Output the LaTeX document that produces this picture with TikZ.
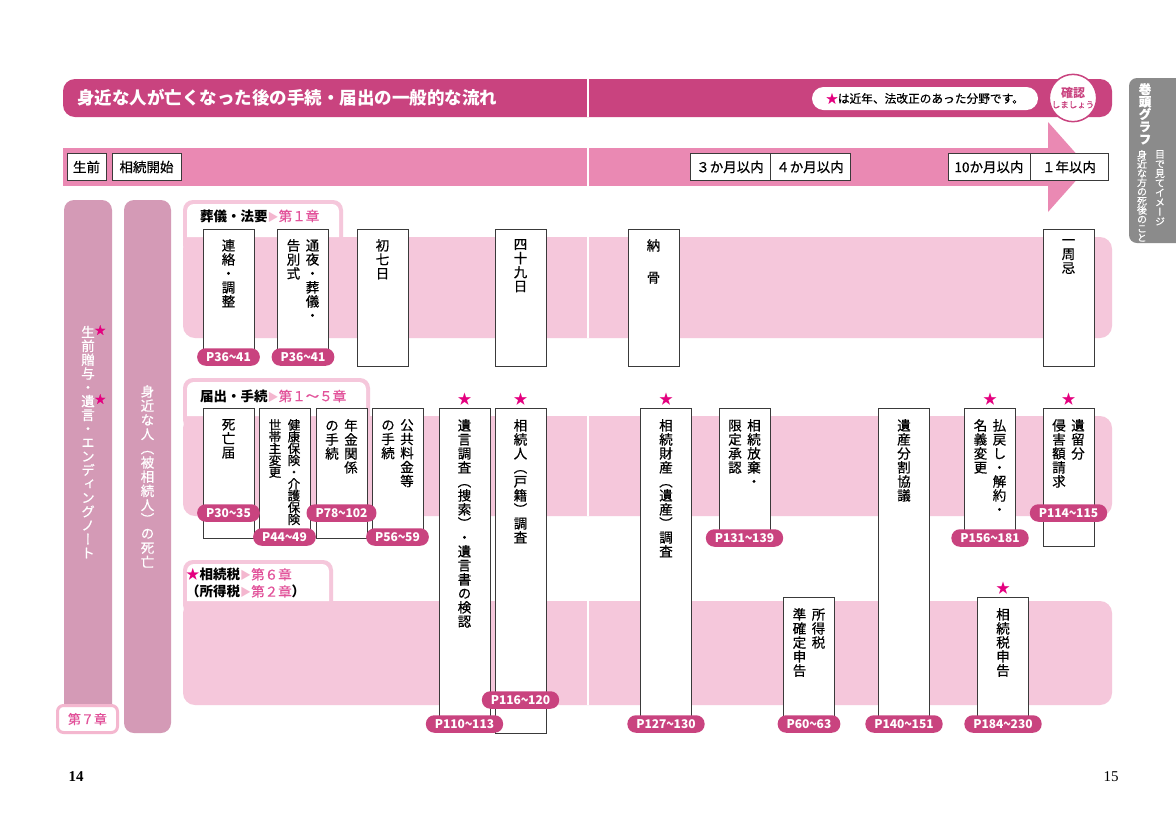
\documentclass[tikz,border=0pt]{standalone}
\usepackage{fontspec}
\setmainfont{Noto Sans CJK JP}
\newfontfamily\jpm[FakeBold=0.5]{Noto Sans CJK JP}
\newfontfamily\jpv[RawFeature=+vert, FakeBold=0.5]{Noto Sans CJK JP}
\newfontfamily\pagefont{Liberation Serif}

\definecolor{hdrpink}{HTML}{C9437F}
\definecolor{tlpink}{HTML}{EA89B3}
\definecolor{bandpink}{HTML}{F5C7DB}
\definecolor{colpink}{HTML}{D49AB6}
\definecolor{starpink}{HTML}{E4007F}
\definecolor{chappink}{HTML}{E2529A}
\definecolor{tripink}{HTML}{F4B7CF}
\definecolor{tabgray}{HTML}{8B8B8B}
\definecolor{boxline}{HTML}{3A3A3A}

% vertical text: one glyph per line
\newlength\vcw
\setlength\vcw{15pt}
\def\vstop{}
\def\vstopmark{\vstop}
\def\vcolaux#1{\def\vtmp{#1}\ifx\vtmp\vstopmark\else\hbox to\vcw{\hss#1\hss}\expandafter\vcolaux\fi}
\newcommand\vcol[2][14pt]{\vtop{\baselineskip=#1\lineskip=0pt\lineskiplimit=-100pt\jpv\vcolaux#2\vstop}}
\newcommand\vtwo[3][14pt]{\vcol[#1]{#3}\hskip4pt\vcol[#1]{#2}}
\newcommand\vstar{\rlap{\raisebox{3pt}{\textcolor{starpink}{\fontsize{11}{11}\selectfont★}}}}
\newcommand\tri{\textcolor{tripink}{\fontsize{11}{11}\selectfont▶}}
\newcommand\wave{\scalebox{0.6}[1]{〜}}

\tikzset{
  docbox/.style={draw=boxline, fill=white, line width=1pt, minimum width=51pt, anchor=north, inner sep=0pt},
  vtxt/.style={anchor=north, inner sep=0pt, font=\fontsize{13.5}{14}\selectfont},
  plabel/.style={fill=hdrpink, text=white, rounded corners=8.5pt, minimum height=17.5pt, inner xsep=9pt, inner ysep=0pt, font=\fontsize{12}{12}\selectfont\bfseries},
  newstar/.style={text=starpink, anchor=south, inner sep=0pt, font=\fontsize{14}{14}\selectfont},
  tlbox/.style={draw=boxline, fill=white, line width=0.9pt, minimum height=27pt, inner sep=0pt, font=\jpm\fontsize{13.5}{13.5}\selectfont},
  tabtitle/.style={anchor=west, inner sep=0pt, font=\fontsize{13.5}{17}\selectfont, align=left},
}

\begin{document}
\begin{tikzpicture}[x=1pt, y=-1pt]
  \fill[white] (0,0) rectangle (1176,831);
  \useasboundingbox (0,0) rectangle (1176,831);

  % Header bar
  \fill[hdrpink, rounded corners=12pt] (63,79) rectangle (1112,117);
  \draw[white, line width=1.5pt] (588,79) -- (588,117);
  \node[anchor=west, text=white, inner sep=0pt, font=\fontsize{17.5}{17.5}\selectfont\bfseries] (title) at (77,98) {身近な人が亡くなった後の手続・届出の一般的な流れ};
  \node[fill=white, rounded corners=11.5pt, minimum width=226pt, minimum height=23pt, inner sep=0pt, font=\jpm\fontsize{11.7}{11.7}\selectfont] (note) at (925,98.5) {\textcolor{starpink}{★}は近年、法改正のあった分野です。};
  \node[circle, draw=hdrpink, line width=1.5pt, fill=white, minimum size=44pt, inner sep=0pt, align=center, text=hdrpink] (kakunin) at (1073,98) {{\bfseries\fontsize{12}{12}\selectfont 確認}\\[-2pt]{\jpm\fontsize{8.5}{9}\selectfont しましょう}};

  % Side tab
  \fill[tabgray, rounded corners=8pt] (1129,78) rectangle (1195,243);
  \node[anchor=north, inner sep=0pt, text=white, font=\fontsize{12.5}{12.5}\selectfont\bfseries] (kanto) at (1145,83) {\vcol[12.5pt]{巻頭グラフ}};
  \node[anchor=north, inner sep=0pt, text=white, font=\fontsize{10}{10}\selectfont] (mide) at (1160,150) {\vcol[9.6pt]{目で見てイメージ}};
  \node[anchor=north, inner sep=0pt, text=white, font=\fontsize{10}{10}\selectfont] (shigo) at (1142,150) {\vcol[9.2pt]{身近な方の死後のこと}};

  % Time line arrow
  \fill[tlpink] (63,148) rectangle (1048,186);
  \fill[tlpink] (1048,122) -- (1088,167) -- (1048,212) -- cycle;
  \draw[white, line width=1.5pt] (588,148) -- (588,186);
  \node[tlbox, minimum width=39pt] (seizen) at (86.5,167) {生前};
  \node[tlbox, minimum width=69pt] (kaishi) at (146.5,167) {相続開始};
  \node[tlbox, minimum width=80pt] (san) at (730,167) {３か月以内};
  \node[tlbox, minimum width=80pt] (yon) at (810,167) {４か月以内};
  \node[tlbox, minimum width=82pt] (juu) at (989,167) {10か月以内};
  \node[tlbox, minimum width=78pt] (ichinen) at (1069,167) {１年以内};

  % Left columns
  \fill[colpink, rounded corners=10pt] (64,200) rectangle (112,733);
  \fill[colpink, rounded corners=10pt] (124,200) rectangle (171,733);
  \node[anchor=north, inner sep=0pt, text=white, font=\fontsize{13.5}{14}\selectfont] (seizen-t) at (88,325) {\vcol[13.8pt]{{生\vstar}前贈与・{遺\vstar}言・エンディングノート}};
  \node[anchor=north, inner sep=0pt, text=white, font=\fontsize{13.5}{14}\selectfont] (shibo-t) at (147.5,385) {\vcol[14.2pt]{身近な人（被相続人）の死亡}};
  \node[draw=tripink, line width=3pt, fill=white, rounded corners=6pt, minimum width=60pt, minimum height=27pt, inner sep=0pt, text=chappink, font=\jpm\fontsize{13}{13}\selectfont] (dai7) at (87.5,719) {第７章};

  % Bands
  \fill[bandpink, rounded corners=10pt] (183,200) rectangle (343,255);
  \fill[bandpink, rounded corners=12pt] (183,237) rectangle (1112,338);
  \fill[white] (187,237) [rounded corners=7pt] -- (187,204) -- (339,204) [sharp corners] -- (339,237) -- cycle;
  \fill[bandpink, rounded corners=10pt] (183,378) rectangle (370,430);
  \fill[bandpink, rounded corners=12pt] (183,416) rectangle (1112,516);
  \fill[white] (187,416) [rounded corners=7pt] -- (187,382) -- (366,382) [sharp corners] -- (366,416) -- cycle;
  \fill[bandpink, rounded corners=10pt] (183,560) rectangle (333,615);
  \fill[bandpink, rounded corners=12pt] (183,601) rectangle (1112,705);
  \fill[white] (187,601) [rounded corners=7pt] -- (187,564) -- (329,564) [sharp corners] -- (329,601) -- cycle;
  \draw[white, line width=1.5pt] (588,237) -- (588,338);
  \draw[white, line width=1.5pt] (588,416) -- (588,516);
  \draw[white, line width=1.5pt] (588,601) -- (588,705);
  \node[tabtitle] (sogi) at (200,216) {{\bfseries 葬儀・法要}\tri\textcolor{chappink}{\jpm 第１章}};
  \node[tabtitle] (todoke) at (200,396) {{\bfseries 届出・手続}\tri\textcolor{chappink}{\jpm 第１～５章}};
  \node[tabtitle] (zeikin) at (186,583) {\textcolor{starpink}{★}{\bfseries 相続税}\tri\textcolor{chappink}{\jpm 第６章}\\{\bfseries （所得税}\tri\textcolor{chappink}{\jpm 第２章}{\bfseries ）}};

  % Funeral and memorial
  \node[docbox, minimum height=127pt] (renraku) at (228.5,229) {};
  \node[vtxt] (renraku-t) at ([yshift=-10pt]renraku.north) {\vcol{連絡・調整}};
  \node[docbox, minimum height=127pt] (tsuya) at (303,229) {};
  \node[vtxt] (tsuya-t) at ([yshift=-10pt]tsuya.north) {\vtwo{通夜・葬儀・}{告別式}};
  \node[docbox, minimum height=137pt] (shonanoka) at (382.5,229) {};
  \node[vtxt] (shonanoka-t) at ([yshift=-10pt]shonanoka.north) {\vcol{初七日}};
  \node[docbox, minimum height=137pt] (shijuku) at (520.5,229) {};
  \node[vtxt] (shijuku-t) at ([yshift=-10pt]shijuku.north) {\vcol{四十九日}};
  \node[docbox, minimum height=137pt] (noukotsu) at (653.5,229) {};
  \node[vtxt] (noukotsu-t) at ([yshift=-10pt]noukotsu.north) {\vcol[32pt]{納骨}};
  \node[docbox, minimum height=137pt] (isshuki) at (1068.5,229) {};
  \node[vtxt] (isshuki-t) at ([yshift=-10pt]isshuki.north) {\vcol{一周忌}};
  \node[plabel] (renraku-p) at (renraku.south) {P36\wave41};
  \node[plabel] (tsuya-p) at (tsuya.south) {P36\wave41};

  % Notifications and procedures
  \node[docbox, minimum height=130pt] (shibou) at (228.5,408) {};
  \node[vtxt] (shibou-t) at ([yshift=-11pt]shibou.north) {\vcol{死亡届}};
  \node[docbox, minimum height=130pt] (kenpo) at (284.5,408) {};
  \node[vtxt, font=\fontsize{12.5}{12}\selectfont] (kenpo-t) at ([yshift=-11pt]kenpo.north) {\vtwo[11.8pt]{健康保険・介護保険}{世帯主変更}};
  \node[docbox, minimum height=130pt] (nenkin) at (341.5,408) {};
  \node[vtxt] (nenkin-t) at ([yshift=-11pt]nenkin.north) {\vtwo{年金関係}{の手続}};
  \node[docbox, minimum height=130pt] (kokyo) at (397.5,408) {};
  \node[vtxt] (kokyo-t) at ([yshift=-11pt]kokyo.north) {\vtwo{公共料金等}{の手続}};
  \node[docbox, minimum height=315pt] (yuigon) at (464.5,408) {};
  \node[vtxt] (yuigon-t) at ([yshift=-11pt]yuigon.north) {\vcol{遺言調査（捜索）・遺言書の検認}};
  \node[docbox, minimum height=325pt] (souzokunin) at (520.5,408) {};
  \node[vtxt] (souzokunin-t) at ([yshift=-11pt]souzokunin.north) {\vcol{相続人（戸籍）調査}};
  \node[docbox, minimum height=315pt] (zaisan) at (666,408) {};
  \node[vtxt] (zaisan-t) at ([yshift=-11pt]zaisan.north) {\vcol{相続財産（遺産）調査}};
  \node[docbox, minimum height=129pt] (houki) at (744.5,408) {};
  \node[vtxt] (houki-t) at ([yshift=-11pt]houki.north) {\vtwo{相続放棄・}{限定承認}};
  \node[docbox, minimum height=315pt] (bunkatsu) at (904,408) {};
  \node[vtxt] (bunkatsu-t) at ([yshift=-11pt]bunkatsu.north) {\vcol{遺産分割協議}};
  \node[docbox, minimum height=129pt] (haraimodoshi) at (990,408) {};
  \node[vtxt] (haraimodoshi-t) at ([yshift=-11pt]haraimodoshi.north) {\vtwo{払戻し・解約・}{名義変更}};
  \node[docbox, minimum height=138pt] (iryubun) at (1068.5,408) {};
  \node[vtxt] (iryubun-t) at ([yshift=-11pt]iryubun.north) {\vtwo{遺留分}{侵害額請求}};

  % Taxes
  \node[docbox, minimum height=126pt] (shotoku) at (809,597) {};
  \node[vtxt] (shotoku-t) at ([yshift=-11pt]shotoku.north) {\vtwo{所得税}{準確定申告}};
  \node[docbox, minimum height=126pt] (souzokuzei) at (1003,597) {};
  \node[vtxt] (souzokuzei-t) at ([yshift=-11pt]souzokuzei.north) {\vcol{相続税申告}};

  % Stars for recent law changes
  \node[newstar] (s-yuigon) at ([yshift=2pt]yuigon.north) {★};
  \node[newstar] (s-souzokunin) at ([yshift=2pt]souzokunin.north) {★};
  \node[newstar] (s-zaisan) at ([yshift=2pt]zaisan.north) {★};
  \node[newstar] (s-haraimodoshi) at ([yshift=2pt]haraimodoshi.north) {★};
  \node[newstar] (s-iryubun) at ([yshift=2pt]iryubun.north) {★};
  \node[newstar] (s-souzokuzei) at ([yshift=2pt]souzokuzei.north) {★};

  % Page labels
  \node[plabel] (shibou-p) at ([yshift=26pt]shibou.south) {P30\wave35};
  \node[plabel] (kenpo-p) at ([yshift=2pt]kenpo.south) {P44\wave49};
  \node[plabel] (nenkin-p) at ([yshift=26pt]nenkin.south) {P78\wave102};
  \node[plabel] (kokyo-p) at ([yshift=2pt]kokyo.south) {P56\wave59};
  \node[plabel] (yuigon-p) at (yuigon.south) {P110\wave113};
  \node[plabel] (souzokunin-p) at ([yshift=34pt]souzokunin.south) {P116\wave120};
  \node[plabel] (zaisan-p) at (zaisan.south) {P127\wave130};
  \node[plabel] (houki-p) at (houki.south) {P131\wave139};
  \node[plabel] (bunkatsu-p) at (bunkatsu.south) {P140\wave151};
  \node[plabel] (haraimodoshi-p) at (haraimodoshi.south) {P156\wave181};
  \node[plabel] (iryubun-p) at ([yshift=34pt]iryubun.south) {P114\wave115};
  \node[plabel] (shotoku-p) at (shotoku.south) {P60\wave63};
  \node[plabel] (souzokuzei-p) at (souzokuzei.south) {P184\wave230};

  % Page numbers
  \node[inner sep=0pt, font=\pagefont\bfseries\fontsize{15}{15}\selectfont] (pleft) at (76,777) {14};
  \node[inner sep=0pt, font=\pagefont\fontsize{15}{15}\selectfont] (pright) at (1111,777) {15};
\end{tikzpicture}
\end{document}
